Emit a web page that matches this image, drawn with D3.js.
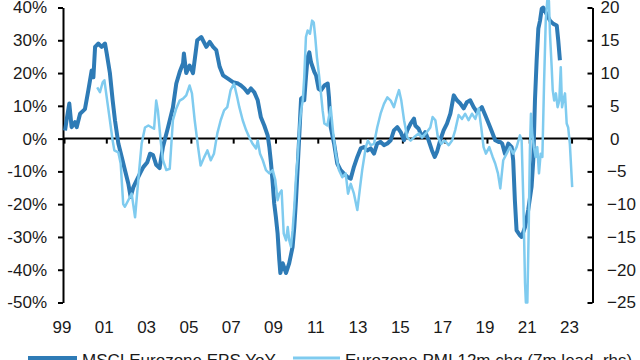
<!DOCTYPE html>
<html><head><meta charset="utf-8">
<script src="https://cdn.jsdelivr.net/npm/d3@7"></script>
<style>
html,body{margin:0;padding:0;background:#fff;overflow:hidden}
svg{display:block;font-family:"Liberation Sans",Arial,sans-serif}
</style></head><body>
<svg id="chart" width="640" height="360"></svg>
<script>
const seriesNames = ["MSCI Eurozone EPS YoY", "Eurozone PMI 12m chg (7m lead, rhs)"];
const yearTicks = [1999,2001,2003,2005,2007,2009,2011,2013,2015,2017,2019,2021,2023];
const yearLabels = ["99","01","03","05","07","09","11","13","15","17","19","21","23"];
const leftTicks = [40,30,20,10,0,-10,-20,-30,-40,-50];
const rightTicks = [20,15,10,5,0,-5,-10,-15,-20,-25];

const epsDates = [1999.05,1999.13,1999.25,1999.36,1999.52,1999.60,1999.76,1999.99,2000.15,2000.31,2000.39,2000.47,2000.62,2000.78,2000.94,2001.02,2001.17,2001.30,2001.41,2001.57,2001.73,2001.88,2002.04,2002.15,2002.28,2002.44,2002.59,2002.75,2002.94,2003.07,2003.21,2003.36,2003.52,2003.68,2003.92,2004.15,2004.31,2004.47,2004.63,2004.67,2004.78,2004.94,2005.10,2005.30,2005.49,2005.73,2005.89,2006.05,2006.20,2006.36,2006.52,2006.75,2006.99,2007.23,2007.37,2007.53,2007.69,2007.84,2008.00,2008.16,2008.31,2008.47,2008.63,2008.71,2008.79,2008.87,2008.94,2009.02,2009.10,2009.18,2009.23,2009.34,2009.50,2009.65,2009.81,2009.89,2009.97,2010.05,2010.13,2010.21,2010.29,2010.36,2010.44,2010.52,2010.60,2010.68,2010.84,2010.92,2011.04,2011.15,2011.31,2011.47,2011.53,2011.61,2011.77,2011.92,2012.08,2012.24,2012.40,2012.56,2012.71,2012.87,2013.03,2013.18,2013.34,2013.50,2013.66,2013.81,2013.97,2014.13,2014.29,2014.45,2014.60,2014.76,2014.92,2015.08,2015.23,2015.39,2015.55,2015.61,2015.77,2015.93,2016.08,2016.24,2016.40,2016.53,2016.64,2016.79,2016.95,2017.11,2017.27,2017.43,2017.58,2017.74,2017.90,2018.05,2018.21,2018.37,2018.53,2018.76,2018.92,2019.08,2019.24,2019.39,2019.55,2019.62,2019.72,2019.85,2020.01,2020.17,2020.24,2020.32,2020.40,2020.56,2020.64,2020.80,2020.95,2021.11,2021.19,2021.27,2021.35,2021.43,2021.51,2021.59,2021.66,2021.82,2021.98,2022.14,2022.30,2022.37,2022.45];
const epsValues = [2.5,6,10.7,3.5,5,3.5,7.6,9,14.7,20.8,18.7,28,29,28,29,26,20,11.7,5.6,-1.5,-5.6,-9.6,-13.7,-17.8,-14.8,-12.7,-10.7,-8.7,-7.2,-4.6,-5,-8,-9,-2.5,3.5,9.5,16.8,20.3,23,26,20,22.3,20,30,31,28,29.5,28,27,21.9,19.3,18.3,17.2,16.8,16.2,15.3,14,15.3,14.1,11.7,6.5,4,1,-2.6,-7.6,-13.7,-19.8,-24,-28.9,-37,-41,-38,-41,-38,-33,-27,-18.8,-8.7,1.5,12.2,12.6,11.7,18.7,24.8,26.3,23.3,20.3,19.3,15.2,14.7,16.2,16.8,12.6,3.5,-1.5,-7.6,-9.6,-10.7,-11.7,-12.2,-8.6,-5.6,-3,-2.6,-3.6,-3,-4.6,-1.5,-1,-2,-1.5,-0.5,2.5,3.5,2,-0.5,2.5,4.6,6.1,4,3,0.5,2,-0.5,-3.6,-5.6,-4,-0.5,2.5,4.6,7.6,13.2,11.7,10.7,9.2,11.1,11.7,9.6,8.1,9.6,7.1,4.6,2,-0.5,-1,-1,-1.5,-4.6,-1.5,-2.6,-6.6,-18.8,-28,-29.5,-30,-27,-21.8,-14.7,-6.6,11.7,23.9,33.6,36,39.6,40,38,36,35,34.5,30,23.9];

const pmiDates = [2000.57,2000.70,2000.83,2000.91,2001.02,2001.17,2001.30,2001.38,2001.57,2001.68,2001.80,2001.88,2002.04,2002.20,2002.36,2002.51,2002.67,2002.83,2002.99,2003.15,2003.26,2003.36,2003.44,2003.57,2003.68,2003.84,2004.00,2004.15,2004.31,2004.47,2004.63,2004.78,2004.94,2005.05,2005.18,2005.34,2005.46,2005.62,2005.78,2005.94,2006.09,2006.25,2006.41,2006.57,2006.72,2006.88,2007.04,2007.19,2007.29,2007.45,2007.61,2007.76,2007.92,2008.08,2008.16,2008.27,2008.40,2008.55,2008.71,2008.87,2008.99,2009.10,2009.18,2009.29,2009.39,2009.50,2009.58,2009.65,2009.73,2009.81,2009.89,2009.97,2010.05,2010.13,2010.21,2010.29,2010.36,2010.44,2010.52,2010.63,2010.73,2010.81,2010.88,2010.96,2011.07,2011.15,2011.23,2011.31,2011.45,2011.61,2011.73,2011.85,2012.00,2012.16,2012.32,2012.43,2012.56,2012.71,2012.87,2013.00,2013.10,2013.27,2013.37,2013.50,2013.66,2013.81,2013.97,2014.13,2014.29,2014.45,2014.60,2014.73,2014.84,2014.95,2015.08,2015.23,2015.39,2015.55,2015.77,2015.93,2016.16,2016.32,2016.43,2016.56,2016.68,2016.84,2017.00,2017.19,2017.35,2017.50,2017.66,2017.82,2017.97,2018.13,2018.29,2018.45,2018.61,2018.73,2018.84,2018.95,2019.11,2019.27,2019.39,2019.52,2019.63,2019.77,2019.93,2020.09,2020.24,2020.40,2020.56,2020.64,2020.72,2020.80,2020.84,2020.91,2020.97,2021.03,2021.08,2021.14,2021.22,2021.30,2021.38,2021.46,2021.54,2021.62,2021.70,2021.78,2021.85,2021.93,2021.98,2022.06,2022.11,2022.18,2022.26,2022.34,2022.42,2022.49,2022.55,2022.61,2022.69,2022.77,2022.84,2022.92,2023.03];
const pmiValues = [7.8,7.1,8.6,8.9,6.3,2.8,-0.3,-1.8,-2.1,-3.8,-10,-10.4,-9.4,-8.4,-12,-6.4,-0.8,1.7,2,1.7,1.5,5.8,4.3,-0.3,-3.3,-4.8,-4.6,2.8,4.6,5.8,6.1,6.6,8.1,6.9,2.8,-1.3,-4.1,-2.9,-1.8,-3.3,-2.3,0.8,2.8,4.3,4.8,7.4,8.4,6.3,4.8,2.8,1.3,0.2,-0.8,-1.5,-0.3,-2.3,-3.3,-4.8,-5.3,-4.8,-6.3,-9.4,-8.4,-7.9,-14.5,-15.5,-13.5,-15.5,-16.5,-14,-10.4,-5.9,-2.8,1.7,4.3,5.8,9.4,15.5,16.5,16,18,17.7,15.5,12.4,9.4,6.9,4.3,2.3,2,4.8,0.8,-2.3,-4.8,-5.9,-5.3,-8.4,-6.9,-8.4,-10.9,-7.4,-4.8,-1.3,-0.3,-1,-0.8,1.7,3.8,5.3,6.3,5.8,4.8,6.3,7.4,5.8,2.8,0.2,-0.3,0.2,0.8,0.2,1,1.7,3.3,2.8,0.2,-0.8,-0.3,-1,-0.3,1.3,3.6,3,3.8,2.8,3.8,3,4.6,1.7,-1.3,-2.3,-1.3,-2.8,-3.8,-5.3,-7.6,-3.3,-2.3,-1.3,-2.3,-1.3,0.5,-0.3,-9.4,-22,-25,-25,-14.5,-1.8,3.8,0.8,-1.3,-2.8,-1.3,-5.3,-2.3,-2.8,8.4,18,21,21,16,10.9,7.4,5.8,6.9,4.8,5.8,10.9,4.8,5.8,6.9,2.3,1.7,-0.8,-7.4];

const svg = d3.select("#chart");
const x = d3.scaleLinear().domain([1999, 2024]).range([64, 592.7]);
const yL = d3.scaleLinear().domain([-50, 40]).range([302.5, 7.5]);
const yR = d3.scaleLinear().domain([-25, 20]).range([302.5, 7.5]);
const darkBlue = "#2E7BB6", lightBlue = "#7FCBEF", textCol = "#1a1a1a";
const fs = "17px";

// x-axis zero line with ticks
const gx = svg.append("g").attr("transform", `translate(0,${yL(0)})`)
  .call(d3.axisBottom(x).tickValues(yearTicks).tickSize(5).tickSizeOuter(0).tickFormat(""));
gx.select(".domain").attr("d", `M63,0H592.5`).attr("stroke", "#000").attr("stroke-width", 2);
gx.selectAll(".tick line").attr("stroke", "#000").attr("stroke-width", 2);

// x labels
const gxl = svg.append("g").attr("transform", "translate(-2.5,318)")
  .call(d3.axisBottom(x).tickValues(yearTicks).tickSize(0).tickPadding(3)
    .tickFormat((d, i) => yearLabels[i]));
gxl.select(".domain").remove();
gxl.selectAll("text").attr("font-size", fs).attr("fill", textCol).attr("font-family", null);

// left axis
const gl = svg.append("g").attr("transform", "translate(63,0)")
  .call(d3.axisLeft(yL).tickValues(leftTicks).tickSize(5).tickSizeOuter(0).tickPadding(11)
    .tickFormat(d => d + "%"));
gl.select(".domain").attr("stroke", "#000").attr("stroke-width", 2);
gl.selectAll(".tick line").attr("stroke", "#000").attr("stroke-width", 2);
gl.selectAll("text").attr("font-size", fs).attr("fill", textCol).attr("font-family", null);

// right axis
const gr = svg.append("g").attr("transform", "translate(592.5,0)")
  .call(d3.axisRight(yR).tickValues(rightTicks).tickSize(-5).tickSizeOuter(0).tickPadding(0));
gr.select(".domain").attr("stroke", "#000").attr("stroke-width", 2);
gr.selectAll(".tick line").attr("stroke", "#000").attr("stroke-width", 2);
gr.selectAll("text").attr("font-size", fs).attr("fill", textCol).attr("font-family", null)
  .attr("text-anchor", d => d >= 0 ? "end" : "start")
  .attr("x", d => d >= 0 ? 27 : 14.5);

// series
const eps = epsDates.map((d, i) => [d, epsValues[i]]);
const pmi = pmiDates.map((d, i) => [d, pmiValues[i]]);
svg.append("path").datum(eps)
  .attr("d", d3.line().x(d => x(d[0])).y(d => yL(d[1])))
  .attr("fill", "none").attr("stroke", darkBlue).attr("stroke-width", 4)
  .attr("stroke-linejoin", "round");
svg.append("path").datum(pmi)
  .attr("d", d3.line().x(d => x(d[0])).y(d => yR(d[1])))
  .attr("fill", "none").attr("stroke", lightBlue).attr("stroke-width", 2.5)
  .attr("stroke-linejoin", "round");

// legend
const leg = [
  {name: seriesNames[0], x1: 28, x2: 77, tx: 82, color: darkBlue, w: 4},
  {name: seriesNames[1], x1: 293, x2: 340, tx: 345, color: lightBlue, w: 3}
];
const lg = svg.append("g");
leg.forEach(l => {
  lg.append("line").attr("x1", l.x1).attr("x2", l.x2).attr("y1", 358).attr("y2", 358)
    .attr("stroke", l.color).attr("stroke-width", l.w);
  lg.append("text").attr("x", l.tx).attr("y", 366).attr("font-size", fs).attr("fill", textCol).text(l.name);
});
</script>
</body></html>
